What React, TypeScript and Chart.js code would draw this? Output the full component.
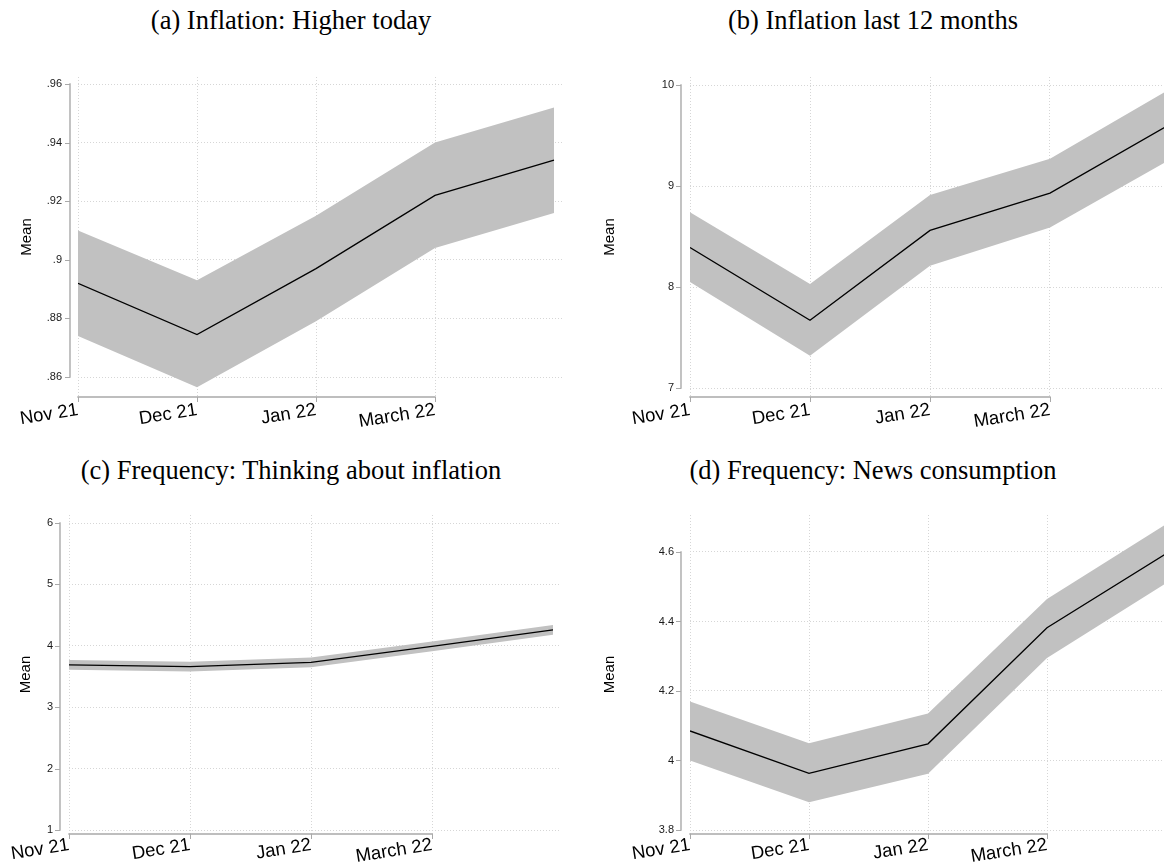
import React, { useEffect, useRef } from 'react';
import { Chart, registerables } from 'chart.js';

Chart.register(...registerables);

// ---- data ----
const xLabels = ['Nov 21', 'Dec 21', 'Jan 22', 'March 22'];
const xPositions = [0, 1, 2, 3, 4];

const aMean = [0.892, 0.8745, 0.897, 0.922, 0.934];
const aUpper = [0.91, 0.893, 0.915, 0.94, 0.952];
const aLower = [0.874, 0.8565, 0.879, 0.904, 0.916];
const aTicks = [0.86, 0.88, 0.9, 0.92, 0.94, 0.96];

const bMean = [8.39, 7.67, 8.56, 8.93, 9.61];
const bUpper = [8.74, 8.03, 8.91, 9.27, 9.96];
const bLower = [8.05, 7.32, 8.21, 8.59, 9.26];
const bTicks = [7, 8, 9, 10];

const cMean = [3.69, 3.66, 3.73, 3.99, 4.26];
const cUpper = [3.77, 3.74, 3.81, 4.07, 4.34];
const cLower = [3.61, 3.58, 3.65, 3.91, 4.18];
const cTicks = [1, 2, 3, 4, 5, 6];

const dMean = [4.085, 3.963, 4.048, 4.382, 4.595];
const dUpper = [4.17, 4.05, 4.135, 4.465, 4.68];
const dLower = [4.0, 3.88, 3.962, 4.295, 4.51];
const dTicks = [3.8, 4, 4.2, 4.4, 4.6];

const titles = [
  '(a) Inflation: Higher today',
  '(b) Inflation last 12 months',
  '(c) Frequency: Thinking about inflation',
  '(d) Frequency: News consumption',
];

// ---- layout (positions / sizes) ----
const W = 582;
const H = 431;

type Panel = {
  title: string;
  mean: number[];
  upper: number[];
  lower: number[];
  ticks: number[];
  left: number;
  top: number;
  area: { left: number; right: number; top: number; bottom: number };
  tickPx: [number, number];
  xStep: number;
  gap: number;
  meanPad: number;
  titleTop: number;
  labelPad: number;
};

const panels: Panel[] = [
  {
    title: titles[0], mean: aMean, upper: aUpper, lower: aLower, ticks: aTicks,
    left: 0, top: 0,
    area: { left: 78, right: 562, top: 77, bottom: 397 },
    tickPx: [377, 84], xStep: 119, gap: 8, meanPad: 18, titleTop: 4, labelPad: 2,
  },
  {
    title: titles[1], mean: bMean, upper: bUpper, lower: bLower, ticks: bTicks,
    left: 582, top: 0,
    area: { left: 108, right: 582, top: 77, bottom: 397 },
    tickPx: [388, 85], xStep: 120, gap: 9, meanPad: 19, titleTop: 4, labelPad: 2,
  },
  {
    title: titles[2], mean: cMean, upper: cUpper, lower: cLower, ticks: cTicks,
    left: 0, top: 431,
    area: { left: 69, right: 561, top: 84, bottom: 403 },
    tickPx: [399, 92], xStep: 121, gap: 9, meanPad: 17, titleTop: 23, labelPad: 0,
  },
  {
    title: titles[3], mean: dMean, upper: dUpper, lower: dLower, ticks: dTicks,
    left: 582, top: 431,
    area: { left: 108, right: 582, top: 84, bottom: 403 },
    tickPx: [399, 121], xStep: 119, gap: 9, meanPad: 19, titleTop: 23, labelPad: 0,
  },
];

const SANS = '"Liberation Sans", Arial, Helvetica, sans-serif';
const SERIF = '"Liberation Serif", "Times New Roman", Times, serif';

const fmt = (v: number) => String(+v.toFixed(3)).replace(/^0\./, '.');

const axesPlugin = {
  id: 'stataAxes',
  afterDraw(chart: any, _args: any, opts: any) {
    const { ctx, chartArea } = chart;
    const x = chart.scales.x;
    const y = chart.scales.y;
    const gap = opts.gap ?? 9;
    ctx.save();
    ctx.setLineDash([]);
    ctx.strokeStyle = '#a9a9a9';
    ctx.lineWidth = 1.4;
    const line = (x1: number, y1: number, x2: number, y2: number) => {
      ctx.beginPath();
      ctx.moveTo(x1, y1);
      ctx.lineTo(x2, y2);
      ctx.stroke();
    };
    const yt = y.ticks.map((t: any) => t.value);
    const ax = chartArea.left - gap;
    const yTop = y.getPixelForValue(yt[yt.length - 1]);
    const yBot = y.getPixelForValue(yt[0]);
    line(ax, yTop - 0.7, ax, yBot + 0.7);
    ctx.lineWidth = 1;
    yt.forEach((v: number) => {
      const py = Math.round(y.getPixelForValue(v)) + 0.5;
      line(ax - 5, py, ax, py);
    });
    ctx.lineWidth = 1.4;
    const by = chartArea.bottom;
    const xt = x.ticks.map((t: any) => t.value);
    line(x.getPixelForValue(xt[0]) - 0.7, by, x.getPixelForValue(xt[xt.length - 1]) + 0.7, by);
    ctx.lineWidth = 1;
    xt.forEach((v: number) => {
      const px = Math.round(x.getPixelForValue(v)) + 0.5;
      line(px, by, px, by + 5);
    });
    ctx.restore();
  },
};

function PanelChart({ p }: { p: Panel }) {
  const ref = useRef<HTMLCanvasElement | null>(null);
  useEffect(() => {
    if (!ref.current) return;
    const { area, ticks, tickPx, xStep } = p;
    const t0 = ticks[0];
    const t1 = ticks[ticks.length - 1];
    const perPx = (t1 - t0) / (tickPx[0] - tickPx[1]);
    const yMax = t1 + (tickPx[1] - area.top) * perPx;
    const yMin = t0 - (area.bottom - tickPx[0]) * perPx;
    const xMax = (area.right - area.left) / xStep;

    const pts = (arr: number[]) => arr.map((v, i) => ({ x: xPositions[i], y: v }));

    const gridCommon = {
      color: '#d6d6d6',
      lineWidth: 1,
      drawTicks: false,
      borderDash: [1, 2],
    };

    const chart = new Chart(ref.current, {
      type: 'line',
      data: {
        datasets: [
          {
            data: pts(p.upper),
            order: 2,
            borderWidth: 0,
            pointRadius: 0,
            backgroundColor: 'rgb(193,193,193)',
            borderColor: 'rgba(0,0,0,0)',
            fill: '+1',
            tension: 0,
          },
          {
            data: pts(p.lower),
            order: 3,
            borderWidth: 0,
            pointRadius: 0,
            borderColor: 'rgba(0,0,0,0)',
            fill: false,
            tension: 0,
          },
          {
            data: pts(p.mean),
            order: 0,
            borderWidth: 1.3,
            borderColor: '#000',
            pointRadius: 0,
            fill: false,
            tension: 0,
          },
        ],
      },
      options: {
        responsive: false,
        animation: false,
        events: [],
        layout: {
          padding: { left: 0, top: area.top, right: W - area.right, bottom: 0 },
        },
        plugins: {
          legend: { display: false },
          tooltip: { enabled: false },
          title: { display: false },
          stataAxes: { gap: p.gap },
        } as any,
        scales: {
          x: {
            type: 'linear',
            min: 0,
            max: xMax,
            afterBuildTicks: (s: any) => {
              s.ticks = xLabels.map((_, i) => ({ value: xPositions[i] }));
            },
            afterFit: (s: any) => {
              s.height = H - area.bottom;
            },
            ticks: {
              autoSkip: false,
              minRotation: 9,
              maxRotation: 9,
              padding: p.labelPad,
              color: '#000',
              font: { family: SANS, size: 18.5 },
              callback: (_v: any, i: number) => xLabels[i],
            },
            grid: gridCommon,
            border: { display: false, dash: [1, 2] },
          } as any,
          y: {
            type: 'linear',
            min: yMin,
            max: yMax,
            afterBuildTicks: (s: any) => {
              s.ticks = ticks.map((v) => ({ value: v }));
            },
            afterFit: (s: any) => {
              s.width = area.left;
            },
            ticks: {
              padding: 16,
              color: '#1a1a1a',
              font: { family: SANS, size: 11 },
              callback: (v: any) => fmt(Number(v)),
            },
            grid: gridCommon,
            border: { display: false, dash: [1, 2] },
            title: {
              display: true,
              text: 'Mean',
              color: '#000',
              font: { family: SANS, size: 15 },
              padding: { top: p.meanPad, bottom: 0 },
            },
          } as any,
        },
      },
      plugins: [axesPlugin as any],
    });
    return () => chart.destroy();
  }, [p]);

  return (
    <>
      <div
        style={{
          position: 'absolute',
          left: p.left,
          top: p.top + p.titleTop,
          width: W,
          textAlign: 'center',
          fontFamily: SERIF,
          fontSize: 26.5,
          lineHeight: '32px',
          color: '#000',
          whiteSpace: 'nowrap',
        }}
      >
        {p.title}
      </div>
      <canvas
        ref={ref}
        width={W}
        height={H}
        style={{ position: 'absolute', left: p.left, top: p.top, width: W, height: H, display: 'block' }}
      />
    </>
  );
}

export default function App() {
  return (
    <div
      style={{
        position: 'absolute',
        left: 0,
        top: 0,
        width: 1164,
        height: 862,
        background: '#fff',
        overflow: 'hidden',
      }}
    >
      {panels.map((p, i) => (
        <PanelChart key={i} p={p} />
      ))}
    </div>
  );
}
